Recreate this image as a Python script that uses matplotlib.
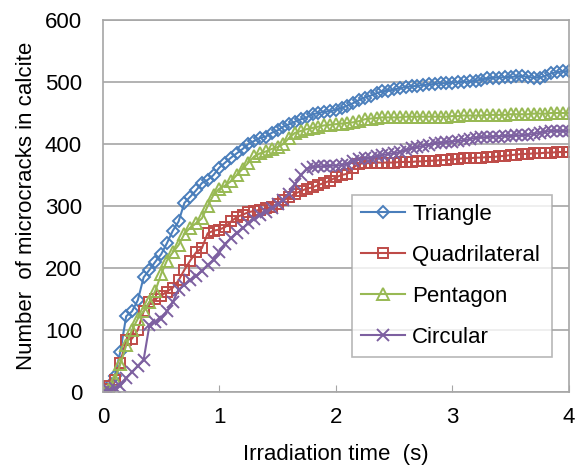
import matplotlib
matplotlib.use("Agg")
import matplotlib.pyplot as plt

plt.rcParams["font.family"] = ["Liberation Sans", "DejaVu Sans"]

# ── data (0.05 s sampling) ──
times = [0.00, 0.05, 0.10, 0.15, 0.20, 0.25, 0.30, 0.35, 0.40, 0.45,
         0.50, 0.55, 0.60, 0.65, 0.70, 0.75, 0.80, 0.85, 0.90, 0.95,
         1.00, 1.05, 1.10, 1.15, 1.20, 1.25, 1.30, 1.35, 1.40, 1.45,
         1.50, 1.55, 1.60, 1.65, 1.70, 1.75, 1.80, 1.85, 1.90, 1.95,
         2.00, 2.05, 2.10, 2.15, 2.20, 2.25, 2.30, 2.35, 2.40, 2.45,
         2.50, 2.55, 2.60, 2.65, 2.70, 2.75, 2.80, 2.85, 2.90, 2.95,
         3.00, 3.05, 3.10, 3.15, 3.20, 3.25, 3.30, 3.35, 3.40, 3.45,
         3.50, 3.55, 3.60, 3.65, 3.70, 3.75, 3.80, 3.85, 3.90, 3.95,
         4.00]

triangle = [0, 10, 25, 65, 122, 130, 148, 185, 197, 210,
            222, 240, 260, 275, 305, 315, 325, 337, 342, 350,
            362, 370, 378, 385, 392, 400, 405, 410, 412, 418,
            422, 428, 432, 436, 440, 443, 448, 450, 452, 453,
            455, 458, 462, 466, 471, 475, 478, 482, 485, 486,
            488, 490, 492, 493, 494, 495, 496, 497, 498, 498,
            499, 500, 500, 501, 502, 504, 506, 507, 507, 508,
            508, 509, 510, 508, 507, 507, 510, 514, 516, 517,
            518]

quadrilateral = [5, 10, 20, 47, 84, 86, 100, 130, 145, 150,
                 155, 162, 168, 180, 197, 212, 225, 232, 256, 260,
                 262, 266, 275, 282, 286, 290, 292, 294, 296, 298,
                 303, 309, 314, 320, 324, 328, 330, 334, 337, 341,
                 346, 350, 352, 362, 368, 369, 369, 370, 370, 370,
                 370, 371, 371, 371, 372, 372, 373, 373, 374, 374,
                 375, 376, 377, 377, 378, 378, 379, 379, 380, 381,
                 382, 383, 384, 384, 385, 385, 386, 386, 387, 387,
                 387]

pentagon = [0, 5, 19, 45, 75, 100, 118, 130, 145, 163,
            190, 212, 225, 237, 255, 265, 272, 280, 300, 318,
            328, 333, 340, 350, 360, 370, 380, 385, 388, 392,
            395, 400, 410, 418, 421, 424, 426, 428, 430, 431,
            432, 433, 434, 435, 437, 440, 441, 442, 443, 443,
            443, 443, 444, 444, 444, 444, 444, 444, 444, 444,
            445, 445, 446, 446, 446, 446, 447, 447, 447, 447,
            448, 448, 448, 448, 449, 449, 449, 450, 450, 450,
            450]

circular = [0, 3, 6, 10, 22, 32, 42, 52, 108, 113,
            118, 130, 145, 165, 173, 180, 187, 195, 205, 213,
            225, 238, 248, 257, 264, 272, 279, 285, 290, 296,
            303, 310, 320, 335, 350, 360, 363, 364, 364, 365,
            365, 366, 368, 372, 375, 377, 378, 380, 382, 384,
            385, 387, 390, 393, 395, 397, 399, 401, 402, 403,
            404, 405, 406, 408, 410, 411, 411, 412, 412, 413,
            413, 414, 414, 415, 416, 418, 420, 421, 421, 421,
            421]

series = [
    ("Triangle", triangle, "#4A7EBB", "D", 6),
    ("Quadrilateral", quadrilateral, "#BE4B48", "s", 7.5),
    ("Pentagon", pentagon, "#98B954", "^", 8),
    ("Circular", circular, "#7D60A0", "x", 8),
]

FS = 16

fig = plt.figure(figsize=(5.78, 4.66), dpi=100)
ax = fig.add_axes([0.178, 0.159, 0.806, 0.798])

for name, vals, color, marker, ms in series:
    ax.plot(times, vals, color=color, lw=1.5, marker=marker, ms=ms,
            mfc="none", mec=color, mew=1.4, label=name)

ax.set_xlim(0, 4)
ax.set_ylim(0, 600)
ax.set_xticks([0, 1, 2, 3, 4])
ax.set_yticks(range(0, 601, 100))
ax.yaxis.grid(True, color="#A6A6A6", lw=1.2)
ax.set_axisbelow(True)
for sp in ax.spines.values():
    sp.set_color("#A6A6A6")
    sp.set_linewidth(1.2)
ax.tick_params(axis="x", direction="in", length=5, color="#A6A6A6",
               labelsize=FS, pad=11)
ax.tick_params(axis="y", length=0, labelsize=FS, pad=15)

ax.set_xlabel("Irradiation time  (s)", fontsize=FS, va="center")
ax.set_ylabel("Number  of microcracks in calcite", fontsize=FS, va="center")
ax.xaxis.set_label_coords(0.5, -0.167)
ax.yaxis.set_label_coords(-0.165, 0.5)

leg = ax.legend(loc="upper left", bbox_to_anchor=(0.534, 0.0, 0.429, 0.53),
                mode="expand", fontsize=FS, frameon=True, fancybox=False,
                edgecolor="#A6A6A6", handlelength=2.0, labelspacing=0.9,
                borderpad=0.42, handletextpad=0.3, borderaxespad=0)
leg.get_frame().set_linewidth(1.2)

fig.savefig("out.png", dpi=100)
